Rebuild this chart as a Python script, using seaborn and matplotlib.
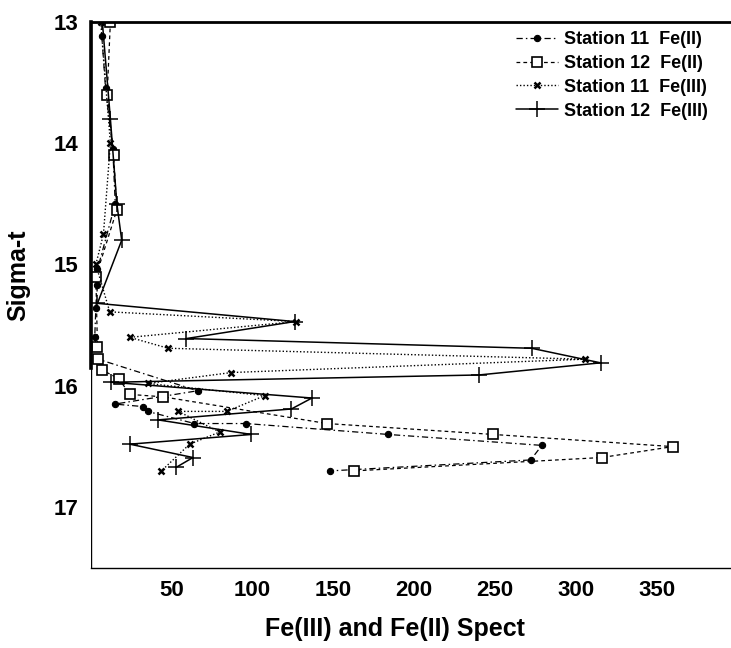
import matplotlib
matplotlib.use("Agg")
import matplotlib.pyplot as plt
import seaborn as sns
import pandas as pd

# ---- data ----
s11_fe2_sigma = [13.12, 13.55, 14.05, 14.50, 15.04, 15.17, 15.36, 15.60, 15.78, 16.04, 16.15,
                 16.17, 16.21, 16.31, 16.31, 16.40, 16.49, 16.61, 16.70]
s11_fe2 = [6.7, 9.0, 13.5, 15.0, 4.0, 4.0, 3.0, 2.3, 4.4, 66.0, 14.7,
           32.0, 35.0, 64.0, 96.0, 184.0, 279.0, 272.0, 148.0]

s12_fe2_sigma = [13.00, 13.60, 14.10, 14.55, 15.10, 15.68, 15.78, 15.87, 15.94, 16.07, 16.09,
                 16.31, 16.40, 16.50, 16.59, 16.70]
s12_fe2 = [12.0, 10.0, 14.0, 16.0, 3.0, 4.0, 4.4, 6.9, 17.2, 24.0, 44.6,
           146.0, 249.0, 360.0, 316.0, 163.0]

s11_fe3_sigma = [13.00, 14.00, 14.75, 15.00, 15.39, 15.47, 15.60, 15.69, 15.78, 15.89, 15.98,
                 16.08, 16.21, 16.21, 16.38, 16.48, 16.70]
s11_fe3 = [6.0, 12.0, 7.7, 3.0, 11.6, 127.0, 24.0, 47.7, 305.6, 86.8, 35.0,
           107.5, 84.0, 54.0, 79.6, 61.0, 43.6]

s12_fe3_sigma = [13.00, 13.80, 14.50, 14.80, 15.32, 15.47, 15.61, 15.69, 15.81, 15.91, 15.97,
                 16.10, 16.19, 16.28, 16.40, 16.48, 16.59, 16.67]
s12_fe3 = [7.0, 12.0, 16.0, 19.0, 4.0, 126.0, 59.0, 272.6, 315.3, 240.0, 12.6,
           136.7, 124.0, 41.5, 99.2, 24.0, 63.1, 52.8]

labels = ["Station 11  Fe(II)", "Station 12  Fe(II)", "Station 11  Fe(III)", "Station 12  Fe(III)"]
x_ticks = [50, 100, 150, 200, 250, 300, 350]
y_ticks = [13, 14, 15, 16, 17]
x_label = "Fe(III) and Fe(II) Spect"
y_label = "Sigma-t"

# ---- style ----
sns.set_theme(style="white")
plt.rcParams["font.family"] = ["Liberation Sans", "DejaVu Sans"]
plt.rcParams["font.weight"] = "bold"
plt.rcParams["text.color"] = "black"
plt.rcParams["axes.labelcolor"] = "black"

fig = plt.figure(figsize=(7.31, 6.48), dpi=100)
ax = fig.add_axes([91 / 731, 1 - 568 / 648, 1 - 91 / 731, (568 - 21.7) / 648])

series = [
    (s11_fe2, s11_fe2_sigma, dict(marker="o", markersize=4.5, markerfacecolor="black",
                                  markeredgecolor="black", markeredgewidth=0.8,
                                  linestyle=(0, (5, 2.5, 1.2, 2.5)), linewidth=0.9)),
    (s12_fe2, s12_fe2_sigma, dict(marker="s", markersize=7, markerfacecolor="white",
                                  markeredgecolor="black", markeredgewidth=1.2,
                                  linestyle=(0, (3, 2.5)), linewidth=0.9)),
    (s11_fe3, s11_fe3_sigma, dict(marker="x", markersize=5, markerfacecolor="black",
                                  markeredgecolor="black", markeredgewidth=1.8,
                                  linestyle=(0, (1, 1.5)), linewidth=1.0)),
    (s12_fe3, s12_fe3_sigma, dict(marker="+", markersize=12, markerfacecolor="black",
                                  markeredgecolor="black", markeredgewidth=1.1,
                                  linestyle="-", linewidth=1.1)),
]

for (xv, yv, kw), lab in zip(series, labels):
    df = pd.DataFrame({"value": xv, "sigma": yv})
    sns.lineplot(data=df, x="value", y="sigma", sort=False, estimator=None,
                 color="black", ax=ax, label=lab, **kw)

ax.set_xlim(0, 396)
ax.set_ylim(17.5, 13.0)
ax.set_xticks(x_ticks)
ax.set_yticks(y_ticks)
ax.tick_params(axis="both", direction="in", length=4, width=1, colors="black",
               labelsize=16, pad=9)
for t in ax.get_xticklabels() + ax.get_yticklabels():
    t.set_fontweight("bold")

ax.set_xlabel(x_label, fontsize=18, fontweight="bold", color="black", va="center")
ax.set_ylabel(y_label, fontsize=18, fontweight="bold", color="black", va="center")
ax.xaxis.set_label_coords(0.475, -0.112)
ax.yaxis.set_label_coords(-0.113, 0.535)

# axis frame: thick upper part of the left axis, thin remainder
ax.spines["right"].set_visible(False)
ax.spines["left"].set_linewidth(2.6)
ax.spines["left"].set_bounds(13.0, 15.85)
ax.axvline(0, color="black", linewidth=1.0, zorder=0.5)
ax.spines["top"].set_linewidth(2.0)
ax.spines["bottom"].set_linewidth(1.0)
for s in ["left", "top", "bottom"]:
    ax.spines[s].set_color("black")

leg = ax.legend(loc="upper right", bbox_to_anchor=(708 / 731, 1 - 31 / 648),
                bbox_transform=fig.transFigure, frameon=False,
                prop={"size": 13, "weight": "bold"}, handlelength=2.3,
                handletextpad=0.35, labelspacing=0.38, borderaxespad=0, borderpad=0)
for t in leg.get_texts():
    t.set_color("black")

fig.savefig("out.png", dpi=100)
